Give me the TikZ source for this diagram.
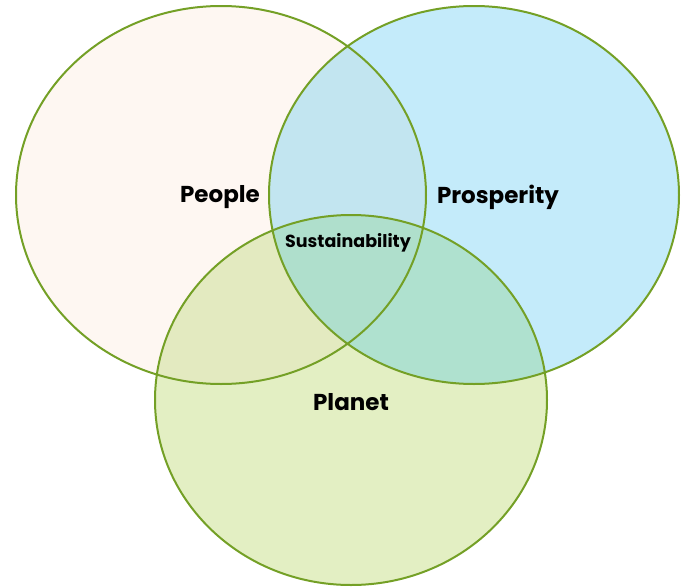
\documentclass[tikz,border=0pt]{standalone}
\usepackage{fontspec}
\setmainfont{Poppins}
\usepackage{tikz}
\definecolor{ringgreen}{HTML}{74A026}
\definecolor{peoplefill}{HTML}{FEF7F2}
\definecolor{prospfill}{HTML}{C4EBFA}
\definecolor{planetfill}{HTML}{E3EFC3}
\definecolor{peopleprosp}{HTML}{C2E5F0}
\definecolor{peopleplanet}{HTML}{E3EAC0}
\definecolor{prospplanet}{HTML}{AFE1CF}
\definecolor{allthree}{HTML}{AFDFCC}
\newcommand{\peoplering}{(221,195) ellipse [x radius=205,y radius=189]}
\newcommand{\prospring}{(474,195) ellipse [x radius=205,y radius=189]}
\newcommand{\planetring}{(351,400) ellipse [x radius=196,y radius=185]}

\begin{document}
\begin{tikzpicture}[x=1pt,y=-1pt,
  ring/.style={draw=ringgreen,line width=2pt},
  lbl/.style={font=\bfseries\fontsize{23}{26}\selectfont},
  smalllbl/.style={font=\bfseries\fontsize{17.5}{20}\selectfont}]
\useasboundingbox (0,0) rectangle (681,587);

\fill[peoplefill] \peoplering;
\fill[prospfill] \prospring;
\fill[planetfill] \planetring;

% overlaps
\begin{scope} \clip \peoplering; \fill[peopleprosp] \prospring; \end{scope}
\begin{scope} \clip \peoplering; \fill[peopleplanet] \planetring; \end{scope}
\begin{scope} \clip \prospring; \fill[prospplanet] \planetring; \end{scope}
\begin{scope} \clip \peoplering; \clip \prospring; \fill[allthree] \planetring; \end{scope}

\draw[ring] \peoplering \prospring \planetring;

\node[lbl] (people) at (220,197) {People};
\node[lbl] (prosp) at (498,197) {Prosperity};
\node[smalllbl] (sust) at (348,243) {Sustainability};
\node[lbl] (planet) at (351,402) {Planet};

\end{tikzpicture}
\end{document}
